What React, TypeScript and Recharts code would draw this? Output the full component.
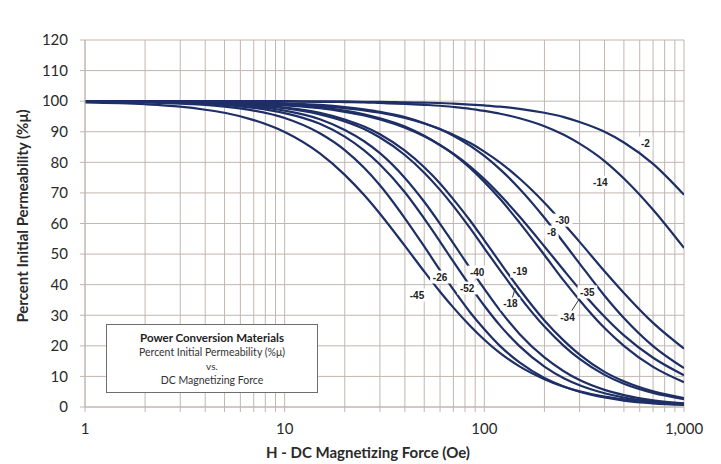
import React from 'react';
import { LineChart, Line, XAxis, YAxis, CartesianGrid, ReferenceDot } from 'recharts';

// DC magnetizing force (Oe) at which each curve is sampled
const fieldOe = [1, 2, 3, 4, 5, 7, 10, 15, 20, 25, 30, 40, 50, 60, 70, 85, 100, 120, 150, 200, 250, 300, 400, 500, 700, 1000];

// Percent initial permeability per material mix
const mix2 = [100, 100, 100, 100, 100, 100, 100, 99.9, 99.9, 99.8, 99.8, 99.6, 99.5, 99.4, 99.2, 98.9, 98.6, 98.2, 97.5, 96.2, 94.8, 93.2, 90.0, 86.5, 79.5, 69.4];
const mix14 = [100, 100, 100, 100, 100, 99.9, 99.9, 99.8, 99.7, 99.6, 99.4, 99.1, 98.8, 98.5, 98.1, 97.5, 96.8, 95.9, 94.4, 91.8, 89.0, 86.1, 80.4, 74.7, 64.5, 52.0];
const mix30 = [100, 99.9, 99.8, 99.7, 99.6, 99.4, 99.1, 98.4, 97.7, 97.0, 96.2, 94.5, 92.7, 90.9, 89.0, 86.3, 83.5, 79.9, 74.7, 66.8, 59.9, 54.0, 44.4, 37.3, 27.5, 19.1];
const mix8 = [100, 99.9, 99.9, 99.8, 99.8, 99.6, 99.3, 98.8, 98.1, 97.3, 96.5, 94.8, 92.8, 90.8, 88.7, 85.4, 82.1, 77.7, 71.4, 61.9, 53.7, 46.9, 36.4, 29.1, 19.9, 12.7];
const mix35 = [100, 99.9, 99.8, 99.6, 99.5, 99.2, 98.6, 97.7, 96.5, 95.3, 94.0, 91.3, 88.5, 85.6, 82.8, 78.6, 74.5, 69.3, 62.3, 52.5, 44.7, 38.5, 29.5, 23.4, 16.1, 10.4];
const mix34 = [100, 99.9, 99.8, 99.7, 99.6, 99.3, 98.9, 97.9, 96.9, 95.7, 94.4, 91.7, 88.7, 85.7, 82.7, 78.1, 73.6, 68.0, 60.3, 49.7, 41.3, 34.9, 25.8, 20.0, 13.1, 8.1];
const mix19 = [99.9, 99.8, 99.7, 99.5, 99.3, 98.8, 97.9, 96.2, 94.0, 91.7, 89.2, 83.8, 78.4, 73.1, 67.9, 60.9, 54.5, 47.2, 38.5, 28.3, 21.7, 17.1, 11.5, 8.4, 5.1, 2.9];
const mix18 = [99.9, 99.8, 99.7, 99.5, 99.2, 98.7, 97.7, 95.7, 93.4, 90.9, 88.1, 82.4, 76.6, 71.0, 65.7, 58.4, 51.9, 44.7, 36.1, 26.3, 20.0, 15.7, 10.5, 7.6, 4.6, 2.6];
const mix40 = [99.9, 99.8, 99.6, 99.3, 99.0, 98.3, 96.9, 94.1, 90.6, 86.9, 83.0, 74.9, 67.1, 59.9, 53.5, 45.3, 38.6, 31.5, 23.9, 16.2, 11.7, 8.8, 5.6, 3.9, 2.2, 1.2];
const mix52 = [99.9, 99.7, 99.5, 99.2, 98.8, 97.8, 96.1, 92.6, 88.4, 83.9, 79.3, 70.2, 61.6, 54.1, 47.5, 39.5, 33.1, 26.6, 19.9, 13.2, 9.4, 7.1, 4.5, 3.1, 1.8, 1.0];
const mix26 = [99.9, 99.6, 99.2, 98.8, 98.2, 96.9, 94.5, 89.5, 84.0, 78.2, 72.5, 61.7, 52.5, 44.7, 38.4, 30.9, 25.4, 19.9, 14.6, 9.5, 6.7, 5.0, 3.1, 2.1, 1.2, 0.7];
const mix45 = [99.6, 99.0, 98.2, 97.2, 96.2, 93.8, 89.9, 82.9, 75.9, 69.3, 63.2, 52.7, 44.3, 37.7, 32.5, 26.5, 22.0, 17.6, 13.3, 9.1, 6.6, 5.1, 3.4, 2.5, 1.5, 0.9];

const mixes: [string, number[]][] = [
  ['-2', mix2], ['-14', mix14], ['-30', mix30], ['-8', mix8], ['-35', mix35], ['-34', mix34],
  ['-19', mix19], ['-18', mix18], ['-40', mix40], ['-52', mix52], ['-26', mix26], ['-45', mix45],
];

// Curve tags: mix name and the (Oe, %) point where the tag sits
const tagNames = ['-2', '-14', '-30', '-8', '-35', '-34', '-19', '-18', '-40', '-52', '-26', '-45'];
const tagField = [641, 381, 246, 217, 328, 261, 151, 135, 92, 82, 60, 46];
const tagPercent = [86.3, 73.5, 61.1, 57.2, 37.6, 29.4, 44.4, 33.7, 44.1, 38.9, 42.5, 36.6];

// Axis ticks
const decadeTicks = [1, 10, 100, 1000];
const logTicks = [1, 2, 3, 4, 5, 6, 7, 8, 9, 10, 20, 30, 40, 50, 60, 70, 80, 90, 100, 200, 300, 400, 500, 600, 700, 800, 900, 1000];
const percentTicks = [0, 10, 20, 30, 40, 50, 60, 70, 80, 90, 100, 110, 120];

const rows = fieldOe.map((h, i) => {
  const row: Record<string, number> = { h };
  mixes.forEach(([name, vals]) => { row[name] = vals[i]; });
  return row;
});

const GRID = '#c2b6b0';
const CURVE = '#1e2f66';
const FONT = 'Lato, "Open Sans", sans-serif';

// small leader strokes drawn from a tag toward its curve
const leaders: Record<string, [number, number, number, number]> = {
  '-34': [4, -6, 11, -17],
  '-18': [2, -6, 5, -16],
};

function CurveTag(props: any) {
  const { cx, cy, text } = props;
  if (cx == null || cy == null) return null;
  const w = text.length * 5.6 + 3;
  const ld = leaders[text];
  return (
    <g>
      {ld && <line x1={cx + ld[0]} y1={cy + ld[1]} x2={cx + ld[2]} y2={cy + ld[3]} stroke="#333" strokeWidth={1} />}
      <rect x={cx - w / 2} y={cy - 6.5} width={w} height={13} fill="#fff" />
      <text x={cx} y={cy} textAnchor="middle" dominantBaseline="central"
        style={{ fontFamily: '"Liberation Sans", Arial, sans-serif', fontSize: 10, fontWeight: 700, fill: '#222' }}>
        {text}
      </text>
    </g>
  );
}

export default function App() {
  return (
    <div style={{ position: 'relative', width: 713, height: 456, fontFamily: FONT }}>
      <LineChart width={713} height={456} data={rows} margin={{ top: 32, right: 37, bottom: 27, left: 7 }}>
        <CartesianGrid stroke={GRID} strokeWidth={1} />
        <XAxis
          dataKey="h" type="number" scale="log" domain={[1, 1000]} ticks={logTicks} interval={0}
          allowDataOverflow height={30}
          tickFormatter={(v: number) => (decadeTicks.includes(v) ? v.toLocaleString('en-US') : '')}
          tick={{ fontSize: 15, fill: '#2a2a2a', fontFamily: FONT }}
          tickSize={5} tickMargin={11}
          axisLine={{ stroke: GRID }} tickLine={{ stroke: GRID }}
        />
        <YAxis
          type="number" domain={[0, 120]} ticks={percentTicks} interval={0} width={70}
          tick={{ fontSize: 15, fill: '#2a2a2a', fontFamily: FONT }}
          tickSize={5} tickMargin={12}
          axisLine={{ stroke: GRID }} tickLine={{ stroke: GRID }}
        />
        {mixes.map(([name]) => (
          <Line key={name} dataKey={name} type="monotone" stroke={CURVE} strokeWidth={2.2}
            dot={false} activeDot={false} isAnimationActive={false} />
        ))}
        {tagNames.map((name, i) => (
          <ReferenceDot key={'t' + name} x={tagField[i]} y={tagPercent[i]} r={0} ifOverflow="visible"
            shape={(p: any) => <CurveTag {...p} text={name} />} />
        ))}
      </LineChart>

      <div style={{
        position: 'absolute', left: 14, top: 208, transform: 'translate(-50%, -50%) rotate(-90deg)',
        whiteSpace: 'nowrap', fontSize: 15, fontWeight: 700, color: '#2a2a2a',
      }}>
        Percent Initial Permeability (%μ)
      </div>

      <div style={{
        position: 'absolute', left: 360, top: 444, transform: 'translate(-50%, -50%)',
        whiteSpace: 'nowrap', fontSize: 15, fontWeight: 700, color: '#2a2a2a',
      }}>
        H - DC Magnetizing Force (Oe)
      </div>

      <div style={{
        position: 'absolute', left: 98, top: 316, width: 212, height: 69, boxSizing: 'border-box',
        border: '1.5px solid #6e6e6e', background: '#fff', textAlign: 'center', color: '#333',
        paddingTop: 5, lineHeight: '15px',
      }}>
        <div style={{ fontSize: 11.5, fontWeight: 700, color: '#222' }}>Power Conversion Materials</div>
        <div style={{ fontSize: 10.5 }}>Percent Initial Permeability (%μ)</div>
        <div style={{ fontSize: 10, lineHeight: '13px' }}>vs.</div>
        <div style={{ fontSize: 10.5 }}>DC Magnetizing Force</div>
      </div>
    </div>
  );
}
